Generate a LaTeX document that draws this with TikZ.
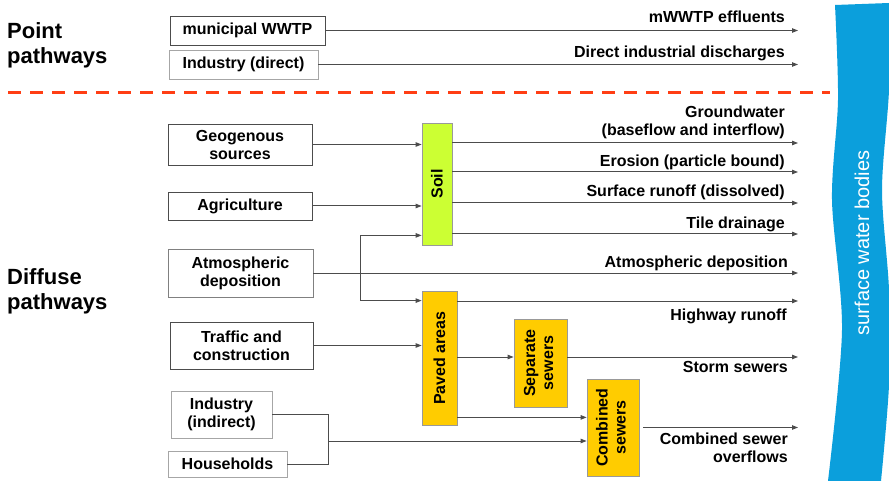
\documentclass[tikz,border=0pt]{standalone}
\usepackage{fontspec}
\setmainfont{Liberation Sans}
\usetikzlibrary{arrows.meta}
\definecolor{soilgreen}{HTML}{CCFF33}
\definecolor{pavedyellow}{HTML}{FFCC00}
\definecolor{waterblue}{HTML}{0B9FDC}
\definecolor{cutred}{HTML}{FF3E14}
\tikzset{
  box/.style={draw=black!70, line width=0.9pt, fill=white, align=center, inner sep=0pt, font=\bfseries\fontsize{16}{18}\selectfont},
  lightbox/.style={box, draw=black!35},
  stage/.style={draw=black!40, line width=0.8pt, inner sep=0pt, font=\bfseries\fontsize{16}{18}\selectfont},
  flow/.style={draw=black!70, line width=1pt},
  arr/.style={flow, -{Triangle[length=6pt,width=4.5pt]}},
  lab/.style={inner sep=0pt, align=right, font=\bfseries\fontsize{16}{18}\selectfont},
  heading/.style={inner sep=0pt, align=left, font=\bfseries\fontsize{22}{25}\selectfont},
}
\begin{document}
\begin{tikzpicture}[x=1pt, y=-1pt]
  \fill[white] (0,0) rectangle (889,481);
  \useasboundingbox (0,0) rectangle (889,481);
  \fill[waterblue] plot[smooth] coordinates {(835,5) (838,100) (832,200) (842,330) (828,481)}
    -- (881,481) -- plot[smooth] coordinates {(881,481) (889,385) (889,290) (882,190) (889,90) (889,3)} -- cycle;
  \node[rotate=90, text=white, font=\fontsize{20}{24}\selectfont] (swb) at (862,243) {surface water bodies};

  \node[heading, anchor=west] (point) at (7,45) {Point\\pathways};
  \node[heading, anchor=west] (diffuse) at (7,291) {Diffuse\\pathways};
  \draw[cutred, line width=3pt, dash pattern=on 13pt off 9pt] (8,93) -- (830,93);

  \node[box, minimum width=155pt, minimum height=29pt] (wwtp) at (247.5,30.5) {municipal WWTP};
  \node[lightbox, minimum width=149pt, minimum height=29pt] (inddir) at (243.5,64.5) {Industry (direct)};
  \node[box, minimum width=144pt, minimum height=41pt] (geo) at (240,144.5) {Geogenous\\sources};
  \node[box, minimum width=144pt, minimum height=28pt] (agri) at (240,206) {Agriculture};
  \node[box, draw=black!50, minimum width=145pt, minimum height=48pt] (atm) at (240.5,273) {Atmospheric\\deposition};
  \node[box, minimum width=143pt, minimum height=47pt] (traffic) at (241.5,345.5) {Traffic and\\construction};
  \node[lightbox, minimum width=101pt, minimum height=47pt] (indind) at (221.5,414.5) {Industry\\(indirect)};
  \node[lightbox, minimum width=119pt, minimum height=26pt] (house) at (227.5,464) {Households};

  \node[stage, fill=soilgreen, minimum width=30pt, minimum height=122pt] (soil) at (437,184) {\rotatebox{90}{Soil}};
  \node[stage, fill=pavedyellow, minimum width=35pt, minimum height=134pt] (paved) at (439.5,358) {\rotatebox{90}{Paved areas}};
  \node[stage, fill=pavedyellow, minimum width=53pt, minimum height=88pt] (sep) at (540.5,363) {\rotatebox{90}{\begin{tabular}{@{}c@{}}Separate\\sewers\end{tabular}}};
  \node[stage, fill=pavedyellow, minimum width=52pt, minimum height=97pt] (comb) at (613,427.5) {\rotatebox{90}{\begin{tabular}{@{}c@{}}Combined\\sewers\end{tabular}}};

  \foreach \n/\y in {mw/30.5, dd/64.5, gw/143, er/172, sr/203, td/234, ad/273, hw/301, ss/357, cso/427.5}
    \coordinate (\n) at (798,\y);

  \node[lab, anchor=base east] (lmw) at (785,23) {mWWTP effluents};
  \node[lab, anchor=base east] (ldd) at (785,58) {Direct industrial discharges};
  \node[lab, anchor=south east] (lgw) at (785,139.5) {Groundwater\\(baseflow and interflow)};
  \node[lab, anchor=base east] (ler) at (785,167) {Erosion (particle bound)};
  \node[lab, anchor=base east] (lsr) at (785,197) {Surface runoff (dissolved)};
  \node[lab, anchor=base east] (ltd) at (785,229) {Tile drainage};
  \node[lab, anchor=base east] (lad) at (788,268) {Atmospheric deposition};
  \node[lab, anchor=base east] (lhw) at (787,320) {Highway runoff};
  \node[lab, anchor=base east] (lss) at (788,372) {Storm sewers};
  \node[lab, anchor=south east] (lcso) at (788,463) {Combined sewer\\overflows};

  \draw[arr] (wwtp.east) -- (mw);
  \draw[arr] (inddir.east) -- (dd);
  \draw[arr] (geo.east) -- (geo.east -| soil.west);
  \draw[arr] (agri.east) -- (agri.east -| soil.west);
  \draw[arr] (atm.east) -- (ad);
  \coordinate (j1) at (360,273);
  \draw[arr] (j1) |- ([yshift=10pt]soil.south west);
  \draw[arr] (j1) |- ([yshift=-10pt]paved.north west);
  \draw[arr] (soil.east |- gw) -- (gw);
  \draw[arr] (soil.east |- er) -- (er);
  \draw[arr] (soil.east |- sr) -- (sr);
  \draw[arr] (soil.east |- td) -- (td);
  \draw[arr] (paved.east |- hw) -- (hw);
  \draw[arr] (traffic.east) -- (traffic.east -| paved.west);
  \draw[arr] (paved.east |- ss) -- (sep.west |- ss);
  \draw[arr] (sep.east |- ss) -- (ss);
  \draw[arr] ([yshift=8pt]paved.south east) -- ([yshift=8pt]paved.south east -| comb.west);
  \draw[arr] ([xshift=4pt]comb.east) -- (cso);
  \coordinate (j2) at (328,441);
  \draw[flow] (indind.east) -| (j2);
  \draw[flow] (house.east) -| (j2);
  \draw[arr] (j2) -- (j2 -| comb.west);
\end{tikzpicture}
\end{document}
